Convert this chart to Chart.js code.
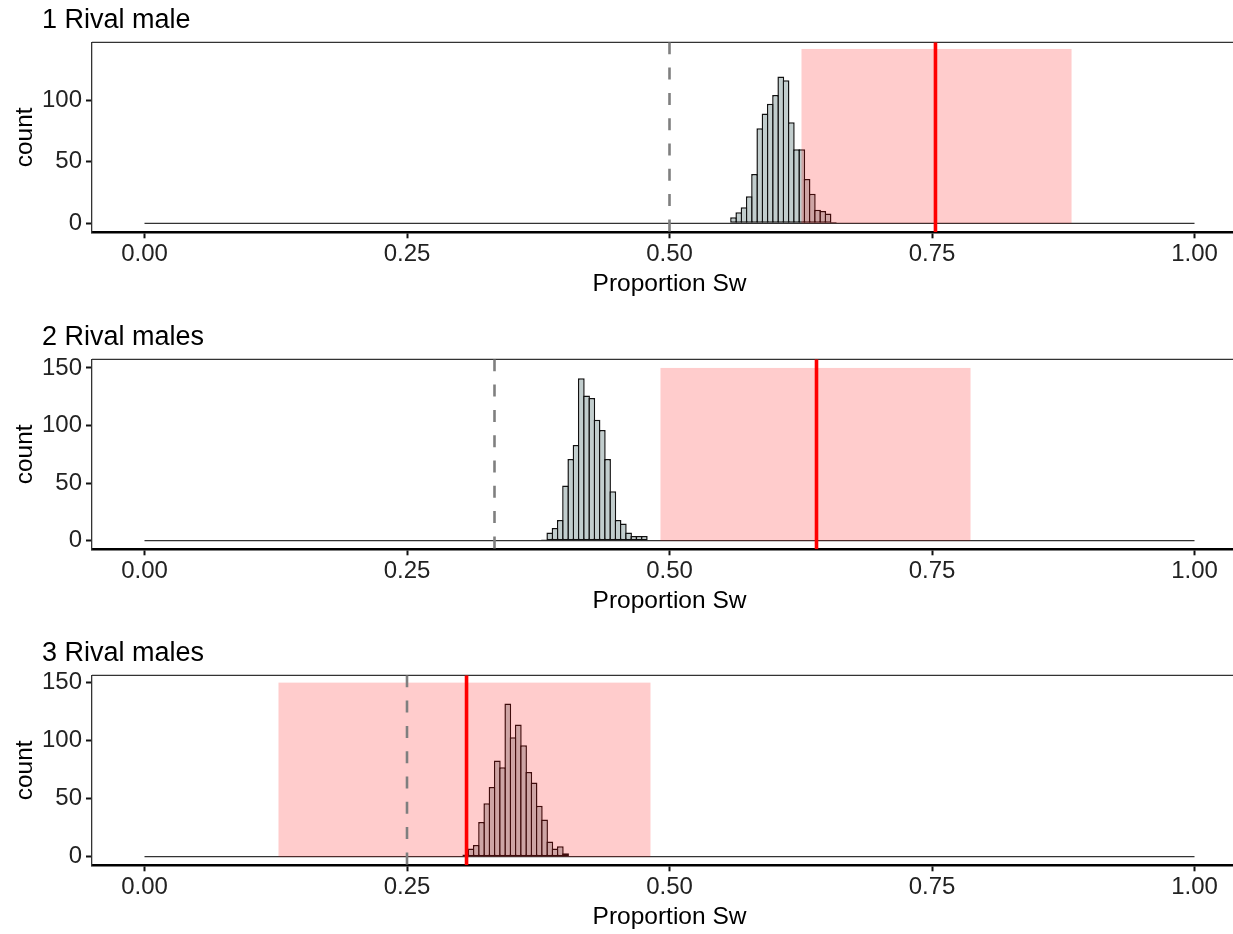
<!DOCTYPE html>
<html lang="en">
<head>
<meta charset="UTF-8" />
<title>Proportion Sw</title>
<script src="https://cdn.jsdelivr.net/npm/chart.js@4.4.1/dist/chart.umd.min.js"></script>
<style>
  html, body { margin: 0; padding: 0; background: #fff; overflow: hidden; width: 1233px; height: 934px; }
  .panel { position: absolute; left: 0; width: 1247px; height: 317px; }
</style>
</head>
<body>
<div class="panel" style="top:0px"><canvas id="chart1" width="1247" height="317"></canvas></div>
<div class="panel" style="top:317px"><canvas id="chart2" width="1247" height="317"></canvas></div>
<div class="panel" style="top:633px"><canvas id="chart3" width="1247" height="317"></canvas></div>
<script>
// --- data ---
const titles = ['1 Rival male', '2 Rival males', '3 Rival males'];

const bins1 = [0.561, 0.566, 0.571, 0.576, 0.581, 0.586, 0.591, 0.596, 0.601, 0.606,
               0.611, 0.616, 0.621, 0.626, 0.631, 0.636, 0.641, 0.646, 0.651, 0.656];
const counts1 = [5, 9, 13, 22, 40, 77, 89, 97, 104, 119, 116, 82, 60, 60, 36, 24, 11, 10, 8, 1];

const bins2 = [0.381, 0.386, 0.391, 0.396, 0.401, 0.406, 0.411, 0.416, 0.421, 0.426,
               0.431, 0.436, 0.441, 0.446, 0.451, 0.456, 0.461, 0.466, 0.471, 0.476];
const counts2 = [1, 7, 11, 18, 48, 71, 83, 141, 126, 124, 105, 96, 71, 43, 18, 15, 7, 4, 4, 4];

const bins3 = [0.306, 0.311, 0.316, 0.321, 0.326, 0.331, 0.336, 0.341, 0.346, 0.351,
               0.356, 0.361, 0.366, 0.371, 0.376, 0.381, 0.386, 0.391, 0.396, 0.401];
const counts3 = [2, 7, 10, 30, 46, 60, 83, 77, 132, 103, 114, 96, 73, 64, 44, 32, 13, 7, 9, 3];

const expected = [0.5, 1 / 3, 0.25];          // grey dashed lines
const observed = [0.7533, 0.640, 0.3067];      // red lines
const intervalLow = [0.6257, 0.4914, 0.1276];  // pink band
const intervalHigh = [0.8829, 0.7867, 0.4819];
const intervalTop = [141.4, 150, 150];

const baseLineX = [0, 1];
const xTicks = [0, 0.25, 0.5, 0.75, 1];
const yTicks = [[0, 50, 100], [0, 50, 100, 150], [0, 50, 100, 150]];
const yMin = [-7.3, -7.5, -7.4];
const yMax = [146.8, 157.5, 156.3];

const allBins = [bins1, bins2, bins3];
const allCounts = [counts1, counts2, counts3];

Chart.defaults.font.family = '"Liberation Sans", Arial, sans-serif';

// pink band, reference lines and top frame line
const overlay = {
   id: 'overlay',
   beforeDatasetsDraw(chart) {
      const { ctx, chartArea: a } = chart;
      ctx.save();
      ctx.strokeStyle = '#333';
      ctx.lineWidth = 1.3;
      ctx.beginPath();
      ctx.moveTo(a.left, a.top);
      ctx.lineTo(a.right, a.top);
      ctx.stroke();
      ctx.restore();
   },
   afterDatasetsDraw(chart, args, opts) {
      const { ctx, chartArea: a, scales: { x, y } } = chart;
      ctx.save();
      ctx.beginPath();
      ctx.rect(a.left, a.top, a.width, a.height);
      ctx.clip();

      const x0 = x.getPixelForValue(opts.lo);
      const x1 = x.getPixelForValue(opts.hi);
      const yt = y.getPixelForValue(opts.top);
      const yb = y.getPixelForValue(0);
      ctx.fillStyle = 'rgba(255, 0, 0, 0.2)';
      ctx.fillRect(x0, yt, x1 - x0, yb - yt);

      const xe = x.getPixelForValue(opts.expected);
      ctx.strokeStyle = '#7f7f7f';
      ctx.lineWidth = 2.6;
      ctx.setLineDash([12, 13.3]);
      ctx.beginPath();
      ctx.moveTo(xe, a.top);
      ctx.lineTo(xe, a.bottom);
      ctx.stroke();

      const xo = x.getPixelForValue(opts.observed);
      ctx.setLineDash([]);
      ctx.strokeStyle = '#ff0000';
      ctx.lineWidth = 3.6;
      ctx.beginPath();
      ctx.moveTo(xo, a.top);
      ctx.lineTo(xo, a.bottom);
      ctx.stroke();
      ctx.restore();
   }
};

function makeChart(i) {
   const ctx = document.getElementById('chart' + (i + 1)).getContext('2d');
   return new Chart(ctx, {
      type: 'bar',
      data: {
         datasets: [
            {
               type: 'line',
               data: baseLineX.map(v => ({ x: v, y: 0 })),
               borderColor: '#333',
               borderWidth: 1.3,
               pointRadius: 0,
               order: 2
            },
            {
               data: allBins[i].map((b, k) => ({ x: b, y: allCounts[i][k] })),
               backgroundColor: '#c1cdcd',
               borderColor: '#111',
               borderWidth: 1.5,
               borderSkipped: false,
               barPercentage: 1.29,
               categoryPercentage: 1,
               order: 1
            }
         ]
      },
      options: {
         responsive: false,
         animation: false,
         layout: { padding: { left: 42, top: 0, right: 0, bottom: 0 } },
         plugins: {
            legend: { display: false },
            tooltip: { enabled: false },
            title: {
               display: true,
               text: titles[i],
               align: 'start',
               color: '#000',
               font: { size: 27, weight: 'normal' },
               padding: { top: 4.5, bottom: 5.4 }
            },
            overlay: {
               lo: intervalLow[i],
               hi: intervalHigh[i],
               top: intervalTop[i],
               expected: expected[i],
               observed: observed[i]
            }
         },
         scales: {
            x: {
               type: 'linear',
               min: -0.05,
               max: 1.05,
               offset: false,
               afterBuildTicks: s => { s.ticks = xTicks.map(v => ({ value: v })); },
               afterFit: s => { s.height = 84.7; },
               ticks: {
                  callback: v => v.toFixed(2),
                  color: '#222',
                  font: { size: 24 },
                  padding: 1.8,
                  maxRotation: 0,
                  autoSkip: false
               },
               grid: {
                  offset: false,
                  drawOnChartArea: false,
                  tickLength: 6,
                  tickWidth: 2,
                  tickColor: '#111'
               },
               border: { width: 2.5, color: '#000' },
               title: {
                  display: true,
                  text: 'Proportion Sw',
                  color: '#000',
                  font: { size: 24.5 },
                  padding: { top: 0, bottom: 18.3 }
               }
            },
            y: {
               type: 'linear',
               min: yMin[i],
               max: yMax[i],
               afterBuildTicks: s => { s.ticks = yTicks[i].map(v => ({ value: v })); },
               afterFit: s => { s.width = 50; },
               ticks: {
                  color: '#222',
                  font: { size: 24 },
                  padding: 4
               },
               grid: {
                  drawOnChartArea: false,
                  tickLength: 6,
                  tickWidth: 2,
                  tickColor: '#111'
               },
               border: { width: 1.3, color: '#333' },
               title: {
                  display: true,
                  text: 'count',
                  color: '#000',
                  font: { size: 24.5 },
                  padding: { top: -31.7, bottom: 0 }
               }
            }
         }
      },
      plugins: [overlay]
   });
}

const charts = [0, 1, 2].map(makeChart);
</script>
</body>
</html>
